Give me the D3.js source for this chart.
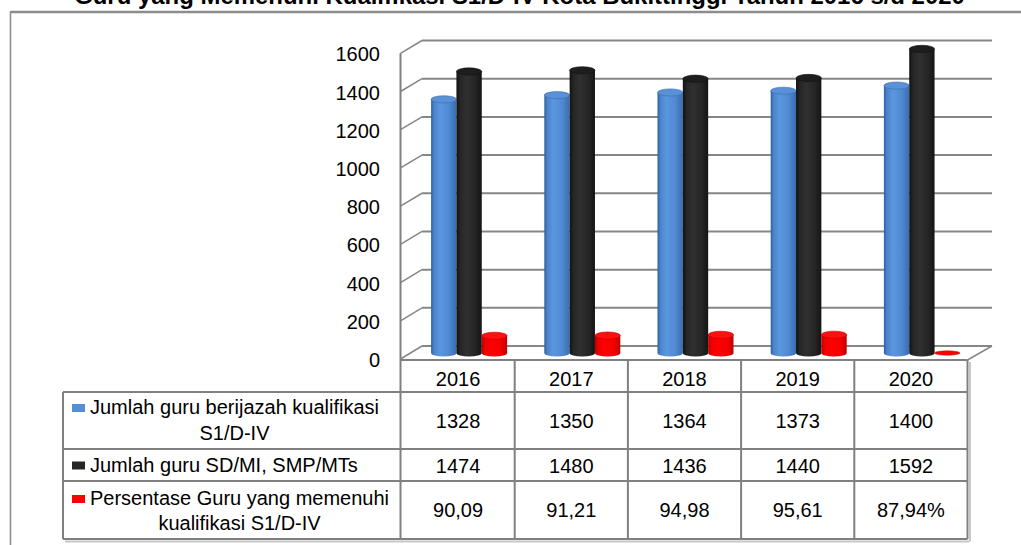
<!DOCTYPE html>
<html><head><meta charset="utf-8">
<script src="https://cdn.jsdelivr.net/npm/d3@7"></script>
<style>
html,body{margin:0;padding:0;background:#fff;}
svg{display:block;font-family:"Liberation Sans",Arial,sans-serif;}
</style></head>
<body><svg id="c" width="1021" height="545"></svg>
<script>
const titleText = "Guru yang Memenuhi Kualifikasi S1/D-IV Kota Bukittinggi Tahun 2016 s/d 2020";
const years = ["2016","2017","2018","2019","2020"];
const jumlahBerijazah = [1328,1350,1364,1373,1400];
const jumlahGuru = [1474,1480,1436,1440,1592];
const persentase = [90.09,91.21,94.98,95.61,0.8794];
const berijazahLabels = ["1328","1350","1364","1373","1400"];
const guruLabels = ["1474","1480","1436","1440","1592"];
const persentaseLabels = ["90,09","91,21","94,98","95,61","87,94%"];
const seriesNames = [["Jumlah guru berijazah kualifikasi","S1/D-IV"],["Jumlah guru SD/MI, SMP/MTs"],["Persentase Guru yang memenuhi","kualifikasi S1/D-IV"]];
const seriesKeys = ["berijazah","guru","persen"];
const yTicks = [0,200,400,600,800,1000,1200,1400,1600];

const svg = d3.select("#c");
const GRID = "#868686", LINE = "#808080";

// scales
const yFront = d3.scaleLinear().domain([0,1600]).range([359,53.3]);
const yBack  = d3.scaleLinear().domain([0,1600]).range([346,40.5]);
const yMid   = d3.scaleLinear().domain([0,1600]).range([353,47.4]);
const xFront = d3.scaleBand().domain(years).range([401.5,967.5]).padding(0);
const xBar   = d3.scaleBand().domain(seriesKeys).range([0,76]).padding(0);
const backX0 = 422, backX1 = 992, frontX0 = 400.5, frontX1 = 967.5;

// outer frame
svg.append("line").attr("x1",10.5).attr("x2",1021).attr("y1",12).attr("y2",12).attr("stroke","#8c8c8c").attr("stroke-width",2.5);
svg.append("line").attr("x1",10.5).attr("x2",10.5).attr("y1",11).attr("y2",545).attr("stroke","#8c8c8c").attr("stroke-width",1.5);

// title
const t = svg.append("text").attr("x",519.5).attr("y",4).attr("text-anchor","middle")
  .attr("font-weight","bold").attr("font-size",20).attr("fill","#000").text(titleText);
const tw = t.node().getComputedTextLength();
t.attr("font-size", 20*891/tw);

// gridlines on back wall + side wall diagonals
const g = svg.append("g");
yTicks.forEach(v=>{
  g.append("line").attr("x1",backX0).attr("x2",backX1).attr("y1",yBack(v)).attr("y2",yBack(v)).attr("stroke",GRID).attr("stroke-width",2);
  g.append("line").attr("x1",frontX0).attr("x2",backX0).attr("y1",yFront(v)).attr("y2",yBack(v)).attr("stroke",GRID).attr("stroke-width",1.5);
});
// floor right edge
g.append("line").attr("x1",frontX1).attr("x2",backX1).attr("y1",yFront(0)+1).attr("y2",yBack(0)).attr("stroke",GRID).attr("stroke-width",1.5);

// y tick labels
svg.append("g").selectAll("text").data(yTicks).join("text")
  .attr("x",380).attr("y",d=>yFront(d)+1).attr("text-anchor","end").attr("dominant-baseline","central")
  .attr("font-size",20).attr("fill","#000").text(d=>d);

// gradients
const defs = svg.append("defs");
function grad(id, stops){
  const lg = defs.append("linearGradient").attr("id",id).attr("x1","0").attr("x2","1").attr("y1","0").attr("y2","0");
  stops.forEach(s=>lg.append("stop").attr("offset",s[0]).attr("stop-color",s[1]));
}
grad("gBlue",[[0,"#2f5f9e"],[0.12,"#4a84cc"],[0.35,"#5b97de"],[0.7,"#4f8ad3"],[1,"#3a6cb0"]]);
grad("gBlack",[[0,"#111"],[0.15,"#262626"],[0.4,"#303030"],[0.75,"#252525"],[1,"#141414"]]);
grad("gRed",[[0,"#b80000"],[0.12,"#ee0000"],[0.4,"#ff0000"],[0.75,"#f40000"],[1,"#c00000"]]);
const styles = {
  berijazah:{fill:"url(#gBlue)", top:"#5a90d6", edge:"#3b6db0", key:"#558ed5"},
  guru:{fill:"url(#gBlack)", top:"#1e1e1e", edge:"#111", key:"#262626"},
  persen:{fill:"url(#gRed)", top:"#ff1010", edge:"#c00000", key:"#ff0000"}
};
const seriesVals = {berijazah:jumlahBerijazah, guru:jumlahGuru, persen:persentase};

// cylinders
const bars = svg.append("g");
const ry = 3.6;
years.forEach((yr,i)=>{
  const cx0 = xFront(yr) + xFront.bandwidth()/2 + 11 - 38;
  seriesKeys.forEach(k=>{
    const v = seriesVals[k][i];
    const x = cx0 + xBar(k), w = xBar.bandwidth();
    const rx = w/2;
    const yb = yMid(0), yt = yMid(v);
    const st = styles[k];
    if (yb - yt > 1) {
      bars.append("path")
        .attr("d",`M${x},${yt} L${x},${yb} A${rx},${ry} 0 0 0 ${x+w},${yb} L${x+w},${yt} Z`)
        .attr("fill",st.fill);
      bars.append("ellipse").attr("cx",x+rx).attr("cy",yt).attr("rx",rx).attr("ry",ry)
        .attr("fill",st.top).attr("stroke",st.edge).attr("stroke-width",0.6);
    } else {
      bars.append("ellipse").attr("cx",x+rx).attr("cy",yb).attr("rx",rx).attr("ry",2.2)
        .attr("fill",st.key).attr("stroke",st.edge).attr("stroke-width",0.5);
    }
  });
});

// table
const tbl = svg.append("g");
const rowsY = [360, 392, 449, 481, 539];
const legendX0 = 63, colX = [401.5].concat(years.map(y=>xFront(y)+xFront.bandwidth()));
// shadow
tbl.append("line").attr("x1",legendX0+2).attr("x2",frontX1+2).attr("y1",541.5).attr("y2",541.5).attr("stroke","#c8c8c8").attr("stroke-width",2);
tbl.append("line").attr("x1",frontX1+2.5).attr("x2",frontX1+2.5).attr("y1",362).attr("y2",541.5).attr("stroke","#c8c8c8").attr("stroke-width",2);
// horizontal lines
tbl.append("line").attr("x1",frontX0).attr("x2",frontX1).attr("y1",rowsY[0]).attr("y2",rowsY[0]).attr("stroke",LINE).attr("stroke-width",2);
rowsY.slice(1).forEach(y=>{
  tbl.append("line").attr("x1",legendX0).attr("x2",frontX1).attr("y1",y).attr("y2",y).attr("stroke",LINE).attr("stroke-width",2);
});
// vertical lines
tbl.append("line").attr("x1",legendX0).attr("x2",legendX0).attr("y1",rowsY[1]).attr("y2",rowsY[4]).attr("stroke",LINE).attr("stroke-width",2);
tbl.append("line").attr("x1",frontX0).attr("x2",frontX0).attr("y1",yFront(1600)).attr("y2",rowsY[4]).attr("stroke",LINE).attr("stroke-width",2);
colX.slice(1).forEach(x=>{
  tbl.append("line").attr("x1",x).attr("x2",x).attr("y1",rowsY[0]).attr("y2",rowsY[4]).attr("stroke",LINE).attr("stroke-width",2);
});
// header years
tbl.selectAll("text.yr").data(years).join("text").attr("class","yr")
  .attr("x",d=>xFront(d)+xFront.bandwidth()/2).attr("y",386).attr("text-anchor","middle")
  .attr("font-size",20).attr("fill","#000").text(d=>d);
// values
const rowLabels = [berijazahLabels, guruLabels, persentaseLabels];
const rowCenters = [421, 465.5, 510];
rowLabels.forEach((labs,r)=>{
  tbl.selectAll("text.v"+r).data(labs).join("text").attr("class","v"+r)
    .attr("x",(d,i)=>xFront(years[i])+xFront.bandwidth()/2).attr("y",rowCenters[r])
    .attr("text-anchor","middle").attr("dominant-baseline","central")
    .attr("font-size",20).attr("fill","#000").text(d=>d);
});
// legend cells
const lineBase = [[414,440],[471.5],[505,530]];
seriesNames.forEach((lines,r)=>{
  const k = seriesKeys[r];
  const tmp = tbl.append("text").attr("font-size",20).text(lines[0]);
  const w = tmp.node().getComputedTextLength(); tmp.remove();
  const cx = 90 + w/2;
  tbl.append("rect").attr("x",72).attr("y",lineBase[r][0]-10).attr("width",13).attr("height",8).attr("fill",styles[k].key);
  lines.forEach((ln,j)=>{
    tbl.append("text").attr("x",cx).attr("y",lineBase[r][j]).attr("text-anchor","middle")
      .attr("font-size",20).attr("fill","#000").text(ln);
  });
});
</script></body></html>
